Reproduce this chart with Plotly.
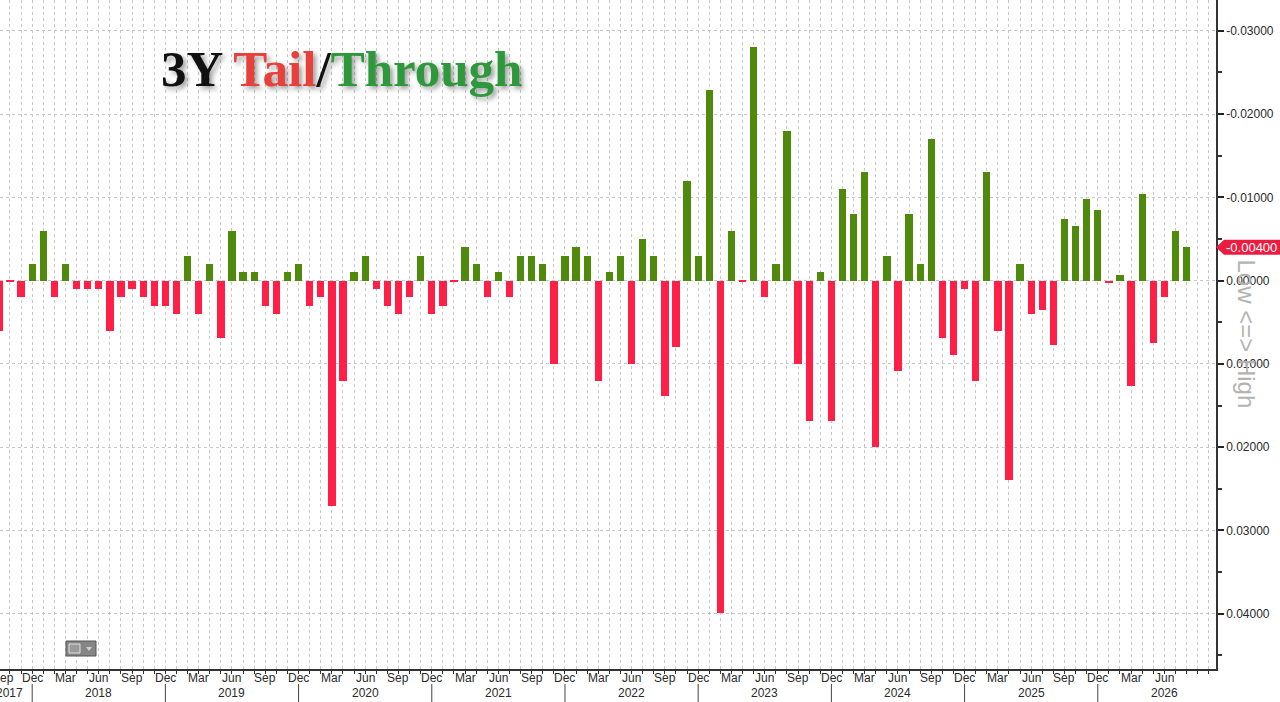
import plotly.graph_objects as go
import pandas as pd

# ---- data ----
months = [p.strftime('%Y-%m') for p in pd.period_range('2017-09', '2026-08', freq='M')]
month_abbr = [pd.Period(m, freq='M').strftime('%b') for m in months]
values = [
    0.0061, 0.0001, 0.0020, -0.0020, -0.0060, 0.0020, -0.0020, 0.0010, 0.0010, 0.0010,
    0.0061, 0.0020, 0.0010, 0.0020, 0.0030, 0.0030, 0.0040, -0.0030, 0.0040, -0.0020,
    0.0069, -0.0060, -0.0010, -0.0010, 0.0030, 0.0040, -0.0010, -0.0020, 0.0030, 0.0020,
    0.0270, 0.0120, -0.0010, -0.0030, 0.0010, 0.0030, 0.0040, 0.0020, -0.0030, 0.0040,
    0.0030, 0.0001, -0.0040, -0.0020, 0.0020, -0.0010, 0.0020, -0.0030, -0.0030, -0.0020,
    0.0100, -0.0030, -0.0040, -0.0030, 0.0120, -0.0010, -0.0030, 0.0100, -0.0050, -0.0030,
    0.0139, 0.0080, -0.0120, -0.0030, -0.0229, 0.0399, -0.0060, 0.0002, -0.0280, 0.0020,
    -0.0020, -0.0180, 0.0100, 0.0169, -0.0010, 0.0169, -0.0110, -0.0080, -0.0130, 0.0200,
    -0.0030, 0.0109, -0.0080, -0.0020, -0.0170, 0.0069, 0.0089, 0.0010, 0.0120, -0.0130,
    0.0060, 0.0239, -0.0020, 0.0040, 0.0035, 0.0077, -0.0074, -0.0065, -0.0098, -0.0085,
    0.0003, -0.0007, 0.0127, -0.0104, 0.0075, 0.0020, -0.0060, -0.0040,
]
y_tick_vals = [-0.03, -0.02, -0.01, 0.0, 0.01, 0.02, 0.03, 0.04]
last_value = values[-1]

# ---- layout constants ----
W, H = 1280, 702
ML, MR, MT, MB = 0, 64, 0, 33
PW, PH = W - ML - MR, H - MT - MB
X_RANGE = [0.1, 109.65]
Y_RANGE = [0.04663, -0.03369]  # reversed: low values at top

GREEN = '#4f8a0c'
RED = '#ff1f47'
TXT = '#2a2a2a'
FONT = 'Liberation Sans'

x_idx = list(range(len(months)))
colors = [GREEN if v < 0 else RED for v in values]

fig = go.Figure()
fig.add_trace(go.Bar(
    x=x_idx, y=values, width=0.66,
    marker=dict(color=colors, line=dict(width=0)),
    hoverinfo='skip', showlegend=False,
))

tick_idx = [i for i, a in enumerate(month_abbr) if a in ('Mar', 'Jun', 'Sep', 'Dec')]


def px_x(px):
    return px / PW


def px_y(py):
    return (PH - py) / PH


def val_y(v):
    return (v - Y_RANGE[0]) / (Y_RANGE[1] - Y_RANGE[0])


def idx_x(k):
    return (k - X_RANGE[0]) / (X_RANGE[1] - X_RANGE[0])


annotations = []
shapes = []

# title
annotations.append(dict(
    xref='paper', yref='paper', x=px_x(159), y=px_y(69), xanchor='left', yanchor='middle',
    showarrow=False,
    text="<b>3Y <span style='color:#e8413b'>Tail</span>/<span style='color:#2e983c'>Through</span></b>",
    font=dict(family='Liberation Serif', size=51, color='#111111',
              shadow='3px 3px 5px rgba(0,0,0,0.38)'),
))

# month labels (every quarter month) drawn just under the axis line
for i in tick_idx:
    xpos = i if i > 0 else 0.41  # first label is partially cut at the left edge
    annotations.append(dict(xref='x', yref='paper', x=xpos, y=px_y(678), text=month_abbr[i],
                            showarrow=False, yanchor='middle',
                            font=dict(family=FONT, size=12, color=TXT)))

# year labels (centered on June) and separators (at Dec)
for i, m in enumerate(months):
    yr, mo = m.split('-')
    if mo == '06':
        annotations.append(dict(xref='x', yref='paper', x=i, y=px_y(693), text=yr,
                                showarrow=False, yanchor='middle',
                                font=dict(family=FONT, size=12, color=TXT)))
    if mo == '12':
        shapes.append(dict(type='line', xref='paper', yref='paper',
                           x0=idx_x(i), x1=idx_x(i), y0=px_y(684), y1=px_y(702),
                           line=dict(color='#444444', width=1)))
annotations.append(dict(xref='x', yref='paper', x=0.95, y=px_y(693), text=months[0][:4],
                        showarrow=False, yanchor='middle',
                        font=dict(family=FONT, size=12, color=TXT)))

# Low <=> High
annotations.append(dict(xref='paper', yref='paper', x=px_x(1262), y=px_y(334),
                        text='Low &lt;=&gt; High', textangle=90, showarrow=False,
                        font=dict(family=FONT, size=24, color='#b3b3b3')))

# last value tag
yv = val_y(last_value)
half = 7.5 / PH
shapes.append(dict(type='path', xref='paper', yref='paper',
                   path=(f'M {px_x(PW)} {yv} L {px_x(PW + 8)} {yv + half} '
                         f'L {px_x(1280)} {yv + half} L {px_x(1280)} {yv - half} '
                         f'L {px_x(PW + 8)} {yv - half} Z'),
                   fillcolor='#ec1c40', line=dict(width=0), layer='above'))
annotations.append(dict(xref='paper', yref='paper', x=px_x(1251), y=yv,
                        text=f'{last_value:.5f}', showarrow=False, xanchor='center', yanchor='middle',
                        font=dict(family=FONT, size=13, color='white')))

# small toolbar icon bottom-left
shapes.append(dict(type='rect', xref='paper', yref='paper',
                   x0=px_x(66), x1=px_x(96), y0=px_y(641), y1=px_y(656),
                   fillcolor='#858585', line=dict(color='#555555', width=1)))
shapes.append(dict(type='rect', xref='paper', yref='paper',
                   x0=px_x(69), x1=px_x(80), y0=px_y(644), y1=px_y(653),
                   fillcolor='#9a9a9a', line=dict(color='#e0e0e0', width=1)))
shapes.append(dict(type='path', xref='paper', yref='paper',
                   path=f'M {px_x(86)} {px_y(647)} L {px_x(92)} {px_y(647)} L {px_x(89)} {px_y(651)} Z',
                   fillcolor='#d0d0d0', line=dict(width=0)))

fig.update_layout(
    width=W, height=H,
    margin=dict(l=ML, r=MR, t=MT, b=MB, pad=0),
    paper_bgcolor='white', plot_bgcolor='white',
    bargap=0,
    xaxis=dict(
        range=X_RANGE, tickmode='array', tickvals=tick_idx, ticktext=['' for _ in tick_idx],
        showline=True, linecolor='#333333', linewidth=1.5,
        ticks='outside', ticklen=3, tickcolor='#333333',
        showticklabels=False,
        showgrid=True, griddash='dot', gridcolor='#c8c8c8', gridwidth=1,
        minor=dict(tickmode='linear', tick0=0, dtick=1, ticks='outside', ticklen=3,
                   tickcolor='#333333', showgrid=True, griddash='dot',
                   gridcolor='#c8c8c8', gridwidth=1),
        zeroline=False, fixedrange=True,
    ),
    yaxis=dict(
        range=Y_RANGE, side='right', tickmode='array', tickvals=y_tick_vals,
        ticktext=[f'{v:.5f}' for v in y_tick_vals],
        showline=True, linecolor='#333333', linewidth=1.5,
        ticks='outside', ticklen=6, tickwidth=2, tickcolor='#222222',
        tickfont=dict(family=FONT, size=12, color=TXT),
        showgrid=True, griddash='dot', gridcolor='#c8c8c8', gridwidth=1,
        minor=dict(tickmode='linear', tick0=0.005, dtick=0.01, ticks='outside',
                   ticklen=4, tickcolor='#333333', showgrid=False),
        zeroline=False, fixedrange=True,
    ),
    annotations=annotations,
    shapes=shapes,
)

fig.write_html('out.html', config={'displayModeBar': False},
               post_script="document.body.style.margin='0';document.body.style.overflow='hidden';")
